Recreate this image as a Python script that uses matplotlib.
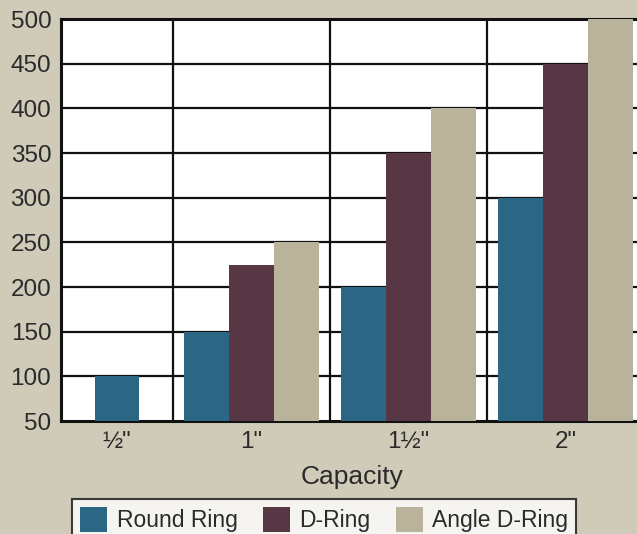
import numpy as np
import matplotlib
matplotlib.use("Agg")
import matplotlib.pyplot as plt
from matplotlib.patches import Patch

categories = ['\u00bd"', '1"', '1\u00bd"', '2"']
series_names = ["Round Ring", "D-Ring", "Angle D-Ring"]
round_ring = [100, 150, 200, 300]
d_ring = [None, 225, 350, 450]
angle_d_ring = [None, 250, 400, 500]
yticks = [50, 100, 150, 200, 250, 300, 350, 400, 450, 500]

colors = ["#2b6784", "#573743", "#bab39b"]
bg = "#d0cab9"

plt.rcParams['font.family'] = ['Liberation Sans', 'DejaVu Sans']

fig = plt.figure(figsize=(6.37, 5.34), dpi=100, facecolor=bg)
left_px, right_px, top_px, bot_px = 61, 644, 19, 421
W, H = 637, 534
ax = fig.add_axes([left_px / W, 1 - bot_px / H, (right_px - left_px) / W, (bot_px - top_px) / H])
ax.set_facecolor("white")

# category centers: first group narrower
first_w = 112 / 157
centers = [0.5 - first_w / 2, 1, 2, 3]
bw = 0.285
series = [round_ring, d_ring, angle_d_ring]
for ci, c in enumerate(centers):
    present = [si for si in range(3) if series[si][ci] is not None]
    n = len(present)
    for k, si in enumerate(present):
        x = c + (k - (n - 1) / 2) * bw
        ax.bar(x, series[si][ci] - 50, bottom=50, width=bw, color=colors[si], zorder=3, linewidth=0)

ax.set_xlim(0.5 - first_w, 3.5)
ax.set_ylim(50, 500)
ax.set_yticks(yticks)
ax.set_xticks(centers)
ax.set_xticklabels(categories)
ax.tick_params(axis='both', length=0, labelsize=17.5, colors="#2a2a2a")
ax.tick_params(axis='y', pad=7)
ax.tick_params(axis='x', pad=7)
for v in yticks[1:-1]:
    ax.axhline(v, color="#111111", lw=1.6, zorder=1)
for v in [0.5, 1.5, 2.5]:
    ax.axvline(v, color="#111111", lw=1.6, zorder=1)
for s in ["top", "left", "bottom"]:
    ax.spines[s].set_linewidth(2.2)
    ax.spines[s].set_color("#111111")
ax.spines["right"].set_visible(False)
ax.set_xlabel("Capacity", fontsize=19, color="#2a2a2a", labelpad=9)

handles = [Patch(facecolor=colors[i], edgecolor="none") for i in range(3)]
leg = fig.legend(handles, series_names, loc="upper left", bbox_to_anchor=(72 / W, 1 - 499 / H),
                 ncol=3, fontsize=16.5, frameon=True, fancybox=False, edgecolor="#111111",
                 handlelength=1.17, handleheight=1.3, handletextpad=0.43, columnspacing=1.1,
                 borderpad=0.35, borderaxespad=0)
leg.get_frame().set_linewidth(1.5)
leg.get_frame().set_facecolor("white")
for t in leg.get_texts():
    t.set_color("#2a2a2a")

fig.savefig("out.png", dpi=100, facecolor=bg)
